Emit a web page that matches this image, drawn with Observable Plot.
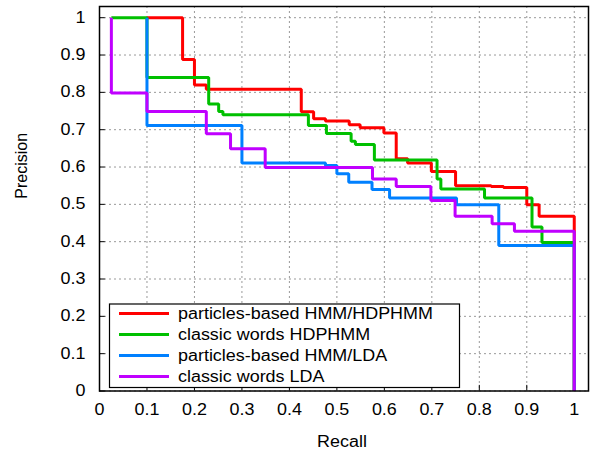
<!DOCTYPE html>
<html>
<head>
<meta charset="utf-8">
<script src="https://cdn.jsdelivr.net/npm/d3@7"></script>
<script src="https://cdn.jsdelivr.net/npm/@observablehq/plot@0.6"></script>
<style>
  html, body { margin: 0; padding: 0; background: #fff; }
  #chart { position: relative; width: 594px; height: 450px; }
  svg { font-family: "Liberation Sans", Arial, sans-serif; }
</style>
</head>
<body>
<div id="chart"></div>
<script>
// ---- data ----
const seriesNames = [
  "particles-based HMM/HDPHMM",
  "classic words HDPHMM",
  "particles-based HMM/LDA",
  "classic words LDA"
];
const seriesColors = ["#ff0000", "#00c000", "#0080ff", "#c000ff"];

const redRecall    = [0.1, 0.175, 0.2, 0.225, 0.425, 0.451, 0.476, 0.526, 0.549, 0.599, 0.625, 0.649, 0.699, 0.750, 0.825, 0.851, 0.900, 0.926, 1.0, 1.0];
const redPrecision = [1.0, 0.888, 0.82, 0.808, 0.748, 0.729, 0.723, 0.713, 0.705, 0.691, 0.622, 0.611, 0.588, 0.550, 0.548, 0.545, 0.499, 0.468, 0.468, 0];

const greenRecall    = [0.025, 0.1, 0.230, 0.251, 0.260, 0.440, 0.478, 0.530, 0.539, 0.579, 0.711, 0.719, 0.811, 0.911, 0.932, 1.0, 1.0];
const greenPrecision = [1.0, 0.840, 0.769, 0.749, 0.740, 0.711, 0.690, 0.669, 0.660, 0.619, 0.568, 0.541, 0.517, 0.439, 0.398, 0.398, 0];

const blueRecall    = [0.1, 0.1, 0.300, 0.476, 0.500, 0.525, 0.574, 0.611, 0.752, 0.841, 1.0, 1.0];
const bluePrecision = [1.0, 0.711, 0.611, 0.604, 0.582, 0.559, 0.540, 0.517, 0.499, 0.390, 0.390, 0];

const purpleRecall    = [0.025, 0.025, 0.1, 0.225, 0.276, 0.349, 0.575, 0.625, 0.698, 0.749, 0.827, 0.874, 1.0, 1.0];
const purplePrecision = [1.0, 0.798, 0.749, 0.689, 0.649, 0.599, 0.568, 0.548, 0.510, 0.468, 0.448, 0.428, 0.428, 0];

const xTicks = [0, 0.1, 0.2, 0.3, 0.4, 0.5, 0.6, 0.7, 0.8, 0.9, 1];
const yTicks = [0, 0.1, 0.2, 0.3, 0.4, 0.5, 0.6, 0.7, 0.8, 0.9, 1];
const xLabel = "Recall";
const yLabel = "Precision";

// ---- build table ----
const allRecall = [redRecall, greenRecall, blueRecall, purpleRecall];
const allPrecision = [redPrecision, greenPrecision, bluePrecision, purplePrecision];
const rows = [];
allRecall.forEach((rs, s) => rs.forEach((r, i) => rows.push({series: seriesNames[s], recall: r, precision: allPrecision[s][i]})));

const fmt = d => d3.format("~g")(d);

const W = 594, H = 450;
const plot = Plot.plot({
  width: W,
  height: H,
  marginLeft: 99,
  marginRight: 6,
  marginTop: 6,
  marginBottom: 59.5,
  style: {fontFamily: "Liberation Sans, Arial, sans-serif", background: "#fff", color: "#000"},
  x: {domain: [0, 1.03]},
  y: {domain: [0, 1.03]},
  color: {domain: seriesNames, range: seriesColors},
  marks: [
    Plot.gridX(xTicks, {stroke: "#999", strokeOpacity: 1, strokeDasharray: "2,3", strokeWidth: 1}),
    Plot.gridY(yTicks, {stroke: "#999", strokeOpacity: 1, strokeDasharray: "2,3", strokeWidth: 1}),
    Plot.ruleY(yTicks, {y: d => d, x1: 0, x2: 0.012, stroke: "#000", strokeWidth: 1}),
    Plot.ruleX(xTicks, {x: d => d, y1: 0, y2: 0.015, stroke: "#000", strokeWidth: 1}),
    Plot.axisX(xTicks, {tickSize: 0, tickPadding: 13, tickFormat: fmt, fontSize: 16, label: null}),
    Plot.axisY(yTicks, {tickSize: 0, tickPadding: 14, tickFormat: fmt, fontSize: 16, label: null}),
    Plot.line(rows, {x: "recall", y: "precision", z: "series", stroke: "series", strokeWidth: 3, curve: "step-after", strokeLinejoin: "miter", strokeLinecap: "butt"}),
    Plot.frame({stroke: "#000", strokeWidth: 1.5}),
    Plot.text([xLabel], {frameAnchor: "bottom", dy: 50.5, dx: -2, fontSize: 16, lineAnchor: "middle"}),
    Plot.text([yLabel], {frameAnchor: "left", dx: -77.5, rotate: -90, fontSize: 16, lineAnchor: "middle"})
  ]
});
document.getElementById("chart").appendChild(plot);

// ---- legend (inside plot, lower left) ----
const svg = d3.select(plot);
const lg = svg.append("g").attr("text-anchor", "start");
lg.append("rect").attr("x", 109.5).attr("y", 304).attr("width", 350).attr("height", 83.5)
  .attr("fill", "#fff").attr("stroke", "#000").attr("stroke-width", 1.2);
const rowY = [313.5, 334.5, 355.5, 376.5];
seriesNames.forEach((name, i) => {
  lg.append("line").attr("x1", 119).attr("x2", 169).attr("y1", rowY[i]).attr("y2", rowY[i])
    .attr("stroke", seriesColors[i]).attr("stroke-width", 3);
  lg.append("text").attr("x", 178).attr("y", rowY[i]).attr("dy", "0.35em")
    .attr("text-anchor", "start").attr("font-size", 16).attr("fill", "#000").text(name);
});

// the reference's lettering is slightly wider than it is tall: stretch horizontal texts
svg.selectAll("text").each(function() {
  if (this.textContent === yLabel) return;
  const len = this.getComputedTextLength();
  if (len > 0) {
    this.setAttribute("textLength", (len * 1.12).toFixed(2));
    this.setAttribute("lengthAdjust", "spacingAndGlyphs");
  }
});
</script>
</body>
</html>
